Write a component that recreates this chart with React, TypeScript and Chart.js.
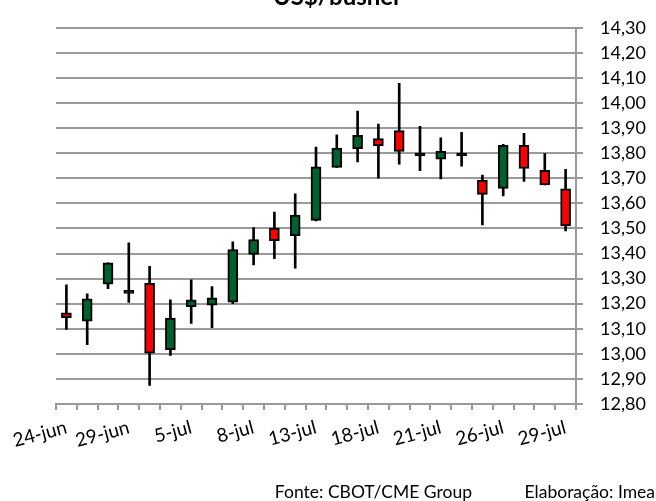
import { useEffect, useRef } from 'react';
import { Chart, registerables } from 'chart.js';

Chart.register(...registerables);

const dates = [
  '24-jun', '27-jun', '28-jun', '29-jun', '30-jun', '1-jul', '5-jul', '6-jul', '7-jul',
  '8-jul', '11-jul', '12-jul', '13-jul', '14-jul', '15-jul', '18-jul', '19-jul', '20-jul',
  '21-jul', '22-jul', '25-jul', '26-jul', '27-jul', '28-jul', '29-jul',
];
const opens = [
  13.164, 13.130, 13.278, 13.253, 13.281, 13.017, 13.188, 13.194, 13.206,
  13.396, 13.501, 13.471, 13.532, 13.743, 13.818, 13.858, 13.890, 13.800,
  13.776, 13.800, 13.693, 13.660, 13.831, 13.732, 13.658,
];
const closes = [
  13.144, 13.219, 13.363, 13.241, 13.003, 13.143, 13.215, 13.223, 13.416,
  13.456, 13.451, 13.553, 13.746, 13.820, 13.871, 13.829, 13.807, 13.789,
  13.807, 13.789, 13.636, 13.831, 13.739, 13.674, 13.510,
];
const highs = [
  13.275, 13.239, 13.363, 13.443, 13.349, 13.215, 13.295, 13.268, 13.447,
  13.503, 13.565, 13.638, 13.824, 13.873, 13.968, 13.916, 14.079, 13.907,
  13.861, 13.883, 13.713, 13.835, 13.879, 13.798, 13.736,
];
const lows = [
  13.097, 13.037, 13.260, 13.205, 12.874, 12.994, 13.121, 13.104, 13.200,
  13.355, 13.379, 13.342, 13.530, 13.743, 13.765, 13.700, 13.756, 13.730,
  13.697, 13.748, 13.514, 13.630, 13.687, 13.674, 13.490,
];
const yTickValues = [
  12.8, 12.9, 13.0, 13.1, 13.2, 13.3, 13.4, 13.5, 13.6, 13.7, 13.8, 13.9, 14.0, 14.1, 14.2, 14.3,
];
const titleText = 'US$/bushel';
const sourceText = 'Fonte: CBOT/CME Group';
const creditText = 'Elaboração: Imea';

const GREEN = '#006130';
const RED = '#ff0000';
const GRID = '#9a9a9a';
const FONT = 'Lato, "Open Sans", sans-serif';

const textPlugin = {
  id: 'extraText',
  afterDraw(chart: any) {
    const ctx = chart.ctx as CanvasRenderingContext2D;
    ctx.save();
    ctx.fillStyle = '#000000';
    ctx.textBaseline = 'alphabetic';
    ctx.font = `bold 24px ${FONT}`;
    ctx.textAlign = 'center';
    ctx.fillText(titleText, 336, 5);
    ctx.font = `17.5px ${FONT}`;
    ctx.textAlign = 'right';
    ctx.fillText(sourceText, 472, 498);
    ctx.fillText(creditText, 655, 498);
    ctx.restore();
  },
};

export default function App() {
  const canvasRef = useRef<HTMLCanvasElement | null>(null);

  useEffect(() => {
    document.body.style.margin = '0';
    const canvas = canvasRef.current;
    if (!canvas) return;

    const bodyColors = opens.map((o, i) => {
      const c = closes[i];
      if (Math.abs(c - o) < 0.015) return '#000000';
      return c >= o ? GREEN : RED;
    });

    const chart = new Chart(canvas, {
      type: 'bar',
      data: {
        labels: dates,
        datasets: [
          {
            label: 'body',
            data: opens.map((o, i) => [o, closes[i]]) as any,
            backgroundColor: bodyColors,
            borderColor: '#000000',
            borderWidth: 2,
            borderSkipped: false,
            barThickness: 10,
            grouped: false,
            order: 0,
          },
          {
            label: 'wick',
            data: lows.map((l, i) => [l, highs[i]]) as any,
            backgroundColor: '#000000',
            borderWidth: 0,
            barThickness: 2,
            grouped: false,
            order: 1,
          },
        ],
      },
      options: {
        responsive: false,
        animation: false,
        devicePixelRatio: 1,
        layout: { padding: { left: 56, top: 22.5, right: 0, bottom: 0 } },
        plugins: {
          legend: { display: false },
          tooltip: { enabled: false },
          title: { display: false },
        },
        scales: {
          x: {
            type: 'category',
            offset: true,
            grid: {
              offset: true,
              drawOnChartArea: false,
              drawTicks: true,
              tickLength: 6,
              color: GRID,
              lineWidth: 2,
            },
            border: { display: true, color: GRID, width: 2 },
            ticks: {
              autoSkip: false,
              minRotation: 15,
              maxRotation: 15,
              padding: 6,
              color: '#000000',
              font: { family: FONT, size: 19 },
              callback: (_v: any, i: number) => (i % 3 === 0 ? dates[i] : ''),
            },
            afterFit: (scale: any) => {
              scale.height = 97;
            },
          },
          y: {
            type: 'linear',
            position: 'right',
            min: 12.8,
            max: 14.3,
            grid: {
              drawTicks: true,
              tickLength: 7,
              color: GRID,
              lineWidth: 2,
            },
            border: { display: true, color: GRID, width: 2 },
            ticks: {
              autoSkip: false,
              padding: 17,
              color: '#000000',
              font: { family: FONT, size: 18 },
              callback: (v: any) => Number(v).toFixed(2).replace('.', ','),
            },
            afterBuildTicks: (scale: any) => {
              scale.ticks = yTickValues.map((v) => ({ value: v }));
            },
            afterFit: (scale: any) => {
              scale.width = 80;
            },
          },
        },
      },
      plugins: [textPlugin],
    });

    return () => {
      chart.destroy();
    };
  }, []);

  return (
    <div
      style={{
        position: 'relative',
        width: 656,
        height: 501,
        overflow: 'hidden',
        background: '#ffffff',
      }}
    >
      <canvas ref={canvasRef} width={656} height={501} style={{ display: 'block' }} />
    </div>
  );
}
